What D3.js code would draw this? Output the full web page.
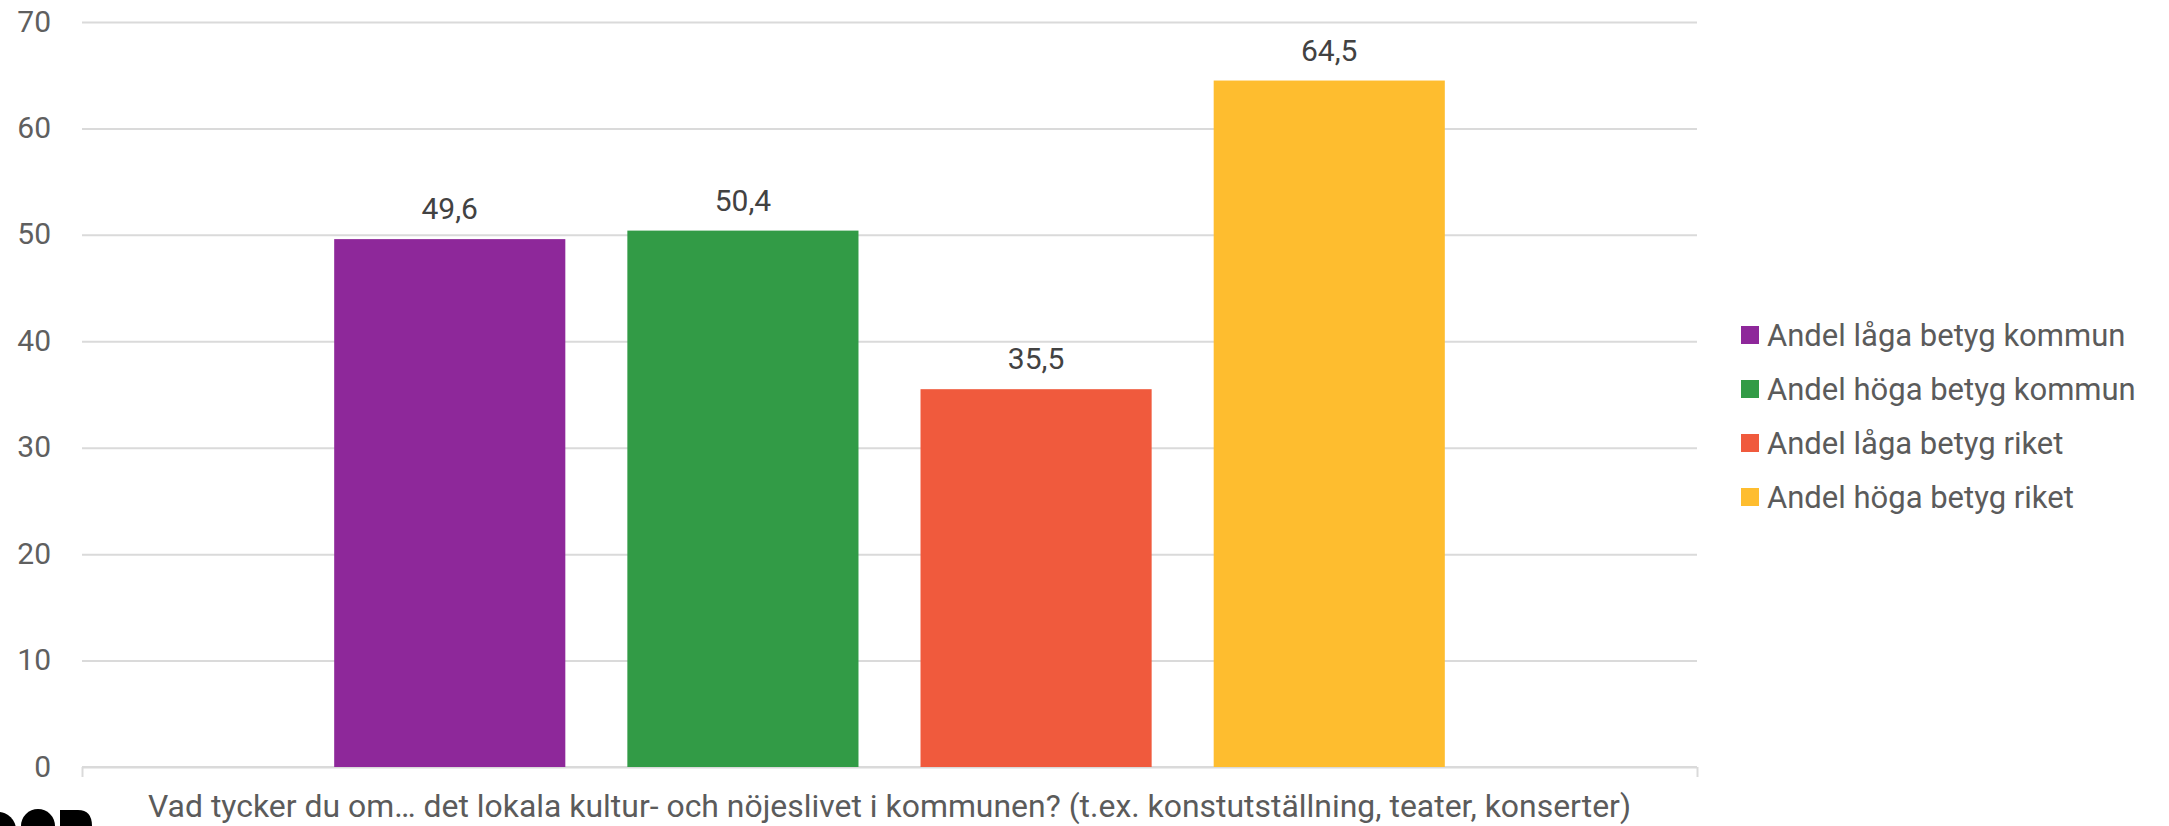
<!DOCTYPE html>
<html>
<head>
<meta charset="utf-8">
<script src="https://cdn.jsdelivr.net/npm/d3@7"></script>
<style>
  html, body { margin: 0; padding: 0; background: #ffffff; }
  svg { display: block; font-family: Roboto, "Noto Sans", sans-serif; }
</style>
</head>
<body>
<svg id="chart" width="2169" height="826"></svg>
<script>
// ---- data ----
const categories = ["Vad tycker du om… det lokala kultur- och nöjeslivet i kommunen? (t.ex. konstutställning, teater, konserter)"];
const seriesNames = ["Andel låga betyg kommun", "Andel höga betyg kommun", "Andel låga betyg riket", "Andel höga betyg riket"];
const seriesValues = [49.6, 50.4, 35.5, 64.5];
const seriesColors = ["#8e289a", "#329b46", "#f05a3d", "#febd2f"];
const yTicks = [0, 10, 20, 30, 40, 50, 60, 70];

// ---- layout ----
const svg = d3.select("#chart");
const plot = { left: 82, right: 1697, top: 22, bottom: 767 };

const y = d3.scaleLinear().domain([0, 70]).range([plot.bottom, plot.top]);
const x0 = d3.scaleBand().domain(categories).range([plot.left, plot.right]).paddingInner(0).paddingOuter(0.1886);
const x1 = d3.scaleBand().domain(seriesNames).range([0, x0.bandwidth()]).paddingInner(0.2116).paddingOuter(0.1058);

const fmt = d3.formatLocale({ decimal: ",", thousands: " ", grouping: [3], currency: ["", " kr"] }).format(".1f");

// gridlines
const yAxis = d3.axisLeft(y).tickValues(yTicks).tickSize(-(plot.right - plot.left)).tickPadding(31).tickFormat(d3.format("d"));
const gy = svg.append("g").attr("transform", `translate(${plot.left},0)`).call(yAxis);
gy.select(".domain").remove();
gy.selectAll(".tick line").attr("stroke", "#dadada").attr("stroke-width", 2);
gy.selectAll(".tick text").attr("fill", "#5f5f5f").style("font-size", "30px").attr("font-family", "Roboto").attr("dy", "0.3em");

// baseline with end ticks
const xAxis = d3.axisBottom(d3.scaleLinear().domain([0, 1]).range([plot.left, plot.right]))
  .tickValues([0, 1]).tickSize(10).tickFormat("");
const gx = svg.append("g").attr("transform", `translate(0,${plot.bottom})`).call(xAxis);
gx.select(".domain").attr("stroke", "#dadada").attr("stroke-width", 2).attr("d", `M${plot.left},0H${plot.right}`);
gx.selectAll(".tick line").attr("stroke", "#dadada").attr("stroke-width", 2);

// bars
const group = svg.append("g").attr("transform", `translate(${x0(categories[0])},0)`);
group.selectAll("rect").data(seriesNames).join("rect")
  .attr("x", d => x1(d))
  .attr("width", x1.bandwidth())
  .attr("y", (d, i) => y(seriesValues[i]))
  .attr("height", (d, i) => y(0) - y(seriesValues[i]))
  .attr("fill", (d, i) => seriesColors[i]);

// data labels
group.selectAll("text.val").data(seriesNames).join("text")
  .attr("class", "val")
  .attr("x", d => x1(d) + x1.bandwidth() / 2)
  .attr("y", (d, i) => y(seriesValues[i]) - 20)
  .attr("text-anchor", "middle")
  .attr("fill", "#424242")
  .style("font-size", "30px")
  .text((d, i) => fmt(seriesValues[i]));

// x axis title (category label)
svg.append("text")
  .attr("x", (plot.left + plot.right) / 2)
  .attr("y", 817)
  .attr("text-anchor", "middle")
  .attr("fill", "#5b5b5b")
  .style("font-size", "31px")
  .attr("textLength", 1483)
  .attr("lengthAdjust", "spacingAndGlyphs")
  .text(categories[0]);

// legend
const legendRowY = d3.scalePoint().domain(seriesNames).range([335, 497]);
const lg = svg.append("g");
const items = lg.selectAll("g").data(seriesNames).join("g")
  .attr("transform", d => `translate(1741,${legendRowY(d)})`);
items.append("rect").attr("x", 0).attr("y", -9).attr("width", 18).attr("height", 18)
  .attr("fill", (d, i) => seriesColors[i]);
items.append("text").attr("x", 26).attr("y", 0).attr("dy", "0.36em")
  .attr("fill", "#5b5b5b").style("font-size", "31px").text(d => d);

// partial logo at bottom-left (cut off by frame)
const logo = svg.append("g").attr("fill", "#000");
logo.append("circle").attr("cx", -2).attr("cy", 830).attr("r", 18);
logo.append("circle").attr("cx", 38).attr("cy", 826).attr("r", 17);
logo.append("path").attr("d", "M60,810 H78 Q92,810 92,826 H60 Z");
</script>
</body>
</html>
